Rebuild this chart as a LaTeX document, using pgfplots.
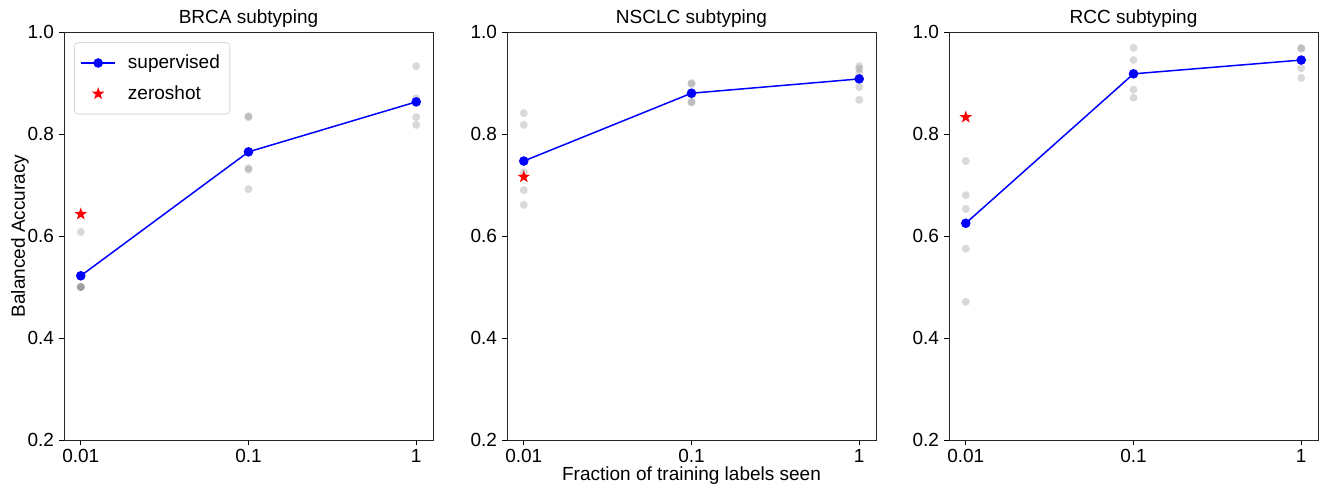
\documentclass[border=0pt]{standalone}
\usepackage{fontspec}
\setmainfont{Liberation Sans}
\usepackage{pgfplots}
\usepackage{pgfplotstable}
\pgfplotsset{compat=1.18}

% filled five-pointed star, like matplotlib's '*'
\pgfdeclareplotmark{fstar}{%
  \pgfpathmoveto{\pgfpointpolar{90}{\pgfplotmarksize}}%
  \pgfpathlineto{\pgfpointpolar{126}{0.4\pgfplotmarksize}}%
  \pgfpathlineto{\pgfpointpolar{162}{\pgfplotmarksize}}%
  \pgfpathlineto{\pgfpointpolar{198}{0.4\pgfplotmarksize}}%
  \pgfpathlineto{\pgfpointpolar{234}{\pgfplotmarksize}}%
  \pgfpathlineto{\pgfpointpolar{270}{0.4\pgfplotmarksize}}%
  \pgfpathlineto{\pgfpointpolar{306}{\pgfplotmarksize}}%
  \pgfpathlineto{\pgfpointpolar{342}{0.4\pgfplotmarksize}}%
  \pgfpathlineto{\pgfpointpolar{18}{\pgfplotmarksize}}%
  \pgfpathlineto{\pgfpointpolar{54}{0.4\pgfplotmarksize}}%
  \pgfpathclose
  \pgfusepathqfill
}

% grey points: individual runs, one table per panel
\pgfplotstableread{
x y
0.01 0.608
0.01 0.500
0.01 0.500
0.01 0.500
0.01 0.500
0.1 0.835
0.1 0.833
0.1 0.733
0.1 0.730
0.1 0.692
1 0.933
1 0.870
1 0.861
1 0.833
1 0.818
}\brcaruns
\pgfplotstableread{
x y
0.01 0.841
0.01 0.818
0.01 0.725
0.01 0.690
0.01 0.661
0.1 0.900
0.1 0.898
0.1 0.877
0.1 0.863
0.1 0.862
1 0.933
1 0.928
1 0.920
1 0.892
1 0.867
}\nsclcruns
\pgfplotstableread{
x y
0.01 0.747
0.01 0.680
0.01 0.653
0.01 0.575
0.01 0.471
0.1 0.969
0.1 0.945
0.1 0.918
0.1 0.887
0.1 0.871
1 0.969
1 0.967
1 0.945
1 0.929
1 0.910
}\rccruns

% common settings for the three panels
\pgfplotsset{
  scale only axis,
  width=184.5pt, height=204pt,
  xmin=0.0079433, xmax=1.2589,
  xtick={0.01,0.1,1},
  xticklabels={0.01,0.1,1},
  ymin=0.2, ymax=1.0,
  ytick={0.2,0.4,0.6,0.8,1.0},
  yticklabel style={xshift=1pt, /pgf/number format/fixed, /pgf/number format/fixed zerofill, /pgf/number format/precision=1},
  xticklabel style={yshift=1.5pt},
  /pgf/number format/assume math mode=true,
  tick align=outside,
  tick pos=left,
  major tick length=2.5pt,
  tick style={black, line width=0.4pt},
  axis line style={line width=0.4pt, black!85},
  every axis/.append style={font=\fontsize{9.5}{11.4}\selectfont},
  title style={yshift=-7pt},
  clip=false,
  runs/.style={only marks, gray, mark=*, mark size=2pt,
    mark options={draw opacity=0, fill=gray, fill opacity=0.3}, forget plot},
  sup/.style={blue, line width=0.75pt, mark=*, mark size=2pt,
    mark options={fill=blue, draw=blue}},
  zs/.style={only marks, red, mark=fstar, mark size=3.3pt},
}

\begin{document}
\begin{tikzpicture}
\path[use as bounding box] (0pt,0pt) rectangle (661pt,243.5pt);

\begin{semilogxaxis}[at={(32pt,23.5pt)}, anchor=south west,
  xminorticks=false,
  title={BRCA subtyping},
  ylabel={Balanced Accuracy},
  ylabel style={yshift=-7.5pt},
  legend style={at={(0.027,0.975)}, anchor=north west,
    draw=black!15, rounded corners=2pt, cells={anchor=west},
    inner xsep=3pt, inner ysep=4pt, row sep=3pt, column sep=4pt,
    font=\fontsize{9.5}{11.4}\selectfont},
]
\addplot[runs] table[x=x, y=y] {\brcaruns};
\addplot[sup] coordinates {(0.01,0.522) (0.1,0.765) (1,0.863)};
\addplot[zs] coordinates {(0.01,0.643)};
\legend{supervised, zeroshot}
\end{semilogxaxis}

\begin{semilogxaxis}[at={(253.5pt,23.5pt)}, anchor=south west,
  xminorticks=false,
  title={NSCLC subtyping},
  xlabel={Fraction of training labels seen},
  xlabel style={yshift=5pt},
]
\addplot[runs] table[x=x, y=y] {\nsclcruns};
\addplot[sup] coordinates {(0.01,0.747) (0.1,0.880) (1,0.908)};
\addplot[zs] coordinates {(0.01,0.716)};
\end{semilogxaxis}

\begin{semilogxaxis}[at={(474.5pt,23.5pt)}, anchor=south west,
  xminorticks=false,
  title={RCC subtyping},
]
\addplot[runs] table[x=x, y=y] {\rccruns};
\addplot[sup] coordinates {(0.01,0.625) (0.1,0.918) (1,0.945)};
\addplot[zs] coordinates {(0.01,0.833)};
\end{semilogxaxis}
\end{tikzpicture}
\end{document}
